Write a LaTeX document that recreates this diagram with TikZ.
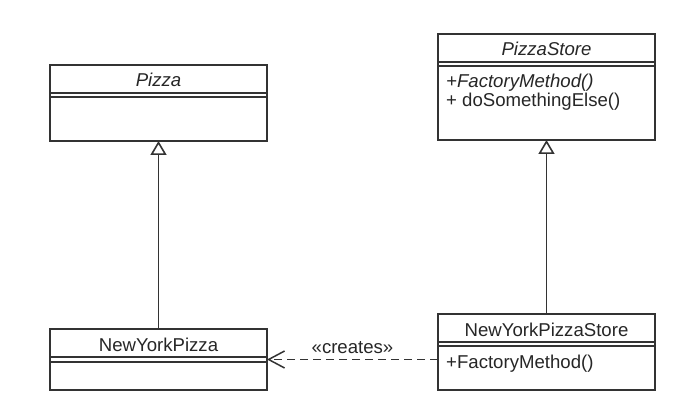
\documentclass[tikz,border=0pt]{standalone}
\usepackage{fontspec}
\setmainfont{Liberation Sans}
\usetikzlibrary{arrows.meta,positioning}

\newcommand{\umlfont}{\fontsize{18.6}{19}\selectfont}

\tikzset{
  uml/.style={draw=black!80, text=black!85, line width=1.5pt, minimum width=217pt, inner sep=0pt, outer sep=0pt},
  classname/.style={uml, minimum height=28pt, text height=16pt, text depth=0pt, anchor=north west},
  classattr/.style={uml, minimum height=4pt},
  classops/.style={uml},
  abstract/.style={font=\umlfont\itshape},
  operation/.style={anchor=base west, inner sep=0pt, text=black!85},
  inherit/.style={draw=black!80, line width=1.6pt, -{Triangle[open, length=14pt, width=16pt]}},
  depends/.style={draw=black!80, line width=1.5pt, dash pattern=on 8pt off 5pt, -{Straight Barb[length=16pt, width=17pt]}}
}

\begin{document}
\begin{tikzpicture}[x=1pt, y=-1pt, font=\umlfont]
  \useasboundingbox (0,0) rectangle (688,406);

  % Pizza
  \node[classname, abstract] (pizza) at (50,65) {Pizza};
  \node[classattr, below=0pt of pizza] (pizza-attr) {};
  \node[classops, minimum height=44pt, below=0pt of pizza-attr] (pizza-ops) {};

  % PizzaStore
  \node[classname, abstract] (store) at (438,34) {PizzaStore};
  \node[classattr, below=0pt of store] (store-attr) {};
  \node[classops, minimum height=74pt, below=0pt of store-attr] (store-ops) {};
  \node[operation, abstract] (store-op1) at (446,88) {+FactoryMethod()};
  \node[operation] (store-op2) at (446,107) {+ doSomethingElse()};

  % NewYorkPizza
  \node[classname] (nypizza) at (50,329) {NewYorkPizza};
  \node[classattr, minimum height=5pt, below=0pt of nypizza] (nypizza-attr) {};
  \node[classops, minimum height=28pt, below=0pt of nypizza-attr] (nypizza-ops) {};

  % NewYorkPizzaStore
  \node[classname] (nystore) at (438,314) {NewYorkPizzaStore};
  \node[classattr, below=0pt of nystore] (nystore-attr) {};
  \node[classops, minimum height=44pt, below=0pt of nystore-attr] (nystore-ops) {};
  \node[operation] (nystore-op1) at (446,368) {+FactoryMethod()};

  % Vererbung
  \draw[inherit] (nypizza.north) -- (pizza-ops.south);
  \draw[inherit] (nystore.north) -- (store-ops.south);

  % Abhaengigkeit
  \draw[depends] (nystore-ops.west |- nypizza-attr.east) -- (nypizza-attr.east)
    node[midway, above, inner sep=5pt, text=black!85] (creates) {«creates»};
\end{tikzpicture}
\end{document}
